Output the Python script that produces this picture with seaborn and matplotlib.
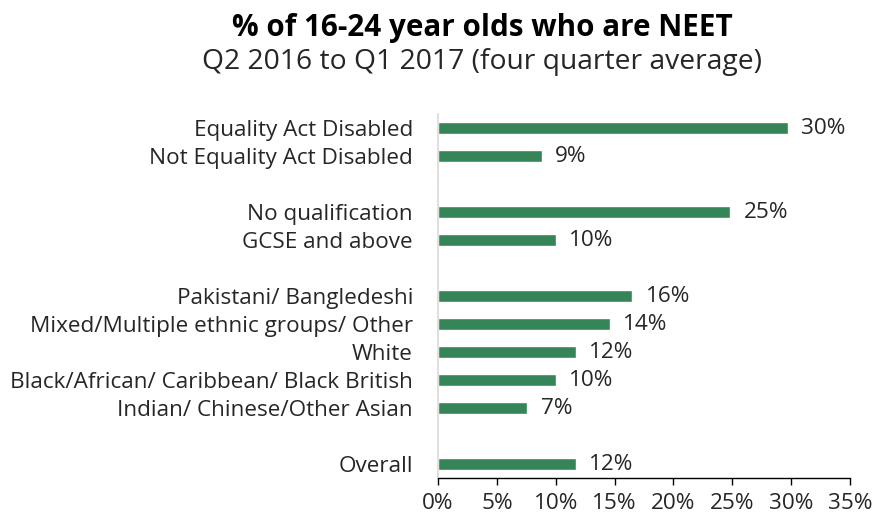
import matplotlib
matplotlib.use("Agg")
import matplotlib.pyplot as plt
import seaborn as sns
import pandas as pd

categories = ["Equality Act Disabled", "Not Equality Act Disabled",
              "No qualification", "GCSE and above",
              "Pakistani/ Bangledeshi", "Mixed/Multiple ethnic groups/ Other",
              "White", "Black/African/ Caribbean/ Black British",
              "Indian/ Chinese/Other Asian", "Overall"]
values = [29.7, 8.8, 24.8, 10.0, 16.5, 14.6, 11.7, 10.0, 7.6, 11.7]
labels = ["30%", "9%", "25%", "10%", "16%", "14%", "12%", "10%", "7%", "12%"]
order = ["Equality Act Disabled", "Not Equality Act Disabled", " ",
         "No qualification", "GCSE and above", "  ",
         "Pakistani/ Bangledeshi", "Mixed/Multiple ethnic groups/ Other",
         "White", "Black/African/ Caribbean/ Black British",
         "Indian/ Chinese/Other Asian", "   ", "Overall"]
xticks = [0, 5, 10, 15, 20, 25, 30, 35]

sns.set_theme(style="white")
plt.rcParams['font.family'] = ['Open Sans', 'DejaVu Sans']

df = pd.DataFrame({"cat": categories, "val": values})
fig = plt.figure(figsize=(8.75, 5.15), dpi=100)
ax = fig.add_axes([0.5006, 0.0718, 0.4708, 0.7068])
color = "#358558"
sns.barplot(data=df, x="val", y="cat", order=order, orient="h",
            color=color, width=0.43, saturation=1, ax=ax)

fs = 16.2
pos = {c: i for i, c in enumerate(order)}
for c, v, lab in zip(categories, values, labels):
    ax.text(v + 1.15, pos[c], lab, va="center", ha="left", fontsize=fs, color="#262626")

ax.set_xlim(0, 35)
ax.set_ylim(len(order) - 0.5, -0.5)
ax.set_xticks(xticks)
ax.set_xticklabels([f"{t}%" for t in xticks], fontsize=fs, color="#262626")
ax.tick_params(axis="y", length=0, labelsize=fs, labelcolor="#262626", pad=18)
ax.tick_params(axis="x", length=5, width=1, color="black", direction="out", pad=6)
ax.xaxis.set_ticks_position("bottom")
ax.set_xlabel("")
ax.set_ylabel("")
for s in ["top", "right"]:
    ax.spines[s].set_visible(False)
ax.spines["left"].set_color("#d9d9d9")
ax.spines["left"].set_linewidth(1.2)
ax.spines["bottom"].set_color("black")
ax.spines["bottom"].set_linewidth(1)

fig.text(0.551, 0.945, "% of 16-24 year olds who are NEET", ha="center", va="center",
         fontsize=21.3, fontweight="bold", color="black")
fig.text(0.551, 0.880, "Q2 2016 to Q1 2017 (four quarter average)", ha="center", va="center",
         fontsize=20.3, color="#262626")

fig.savefig("out.png", dpi=100)
